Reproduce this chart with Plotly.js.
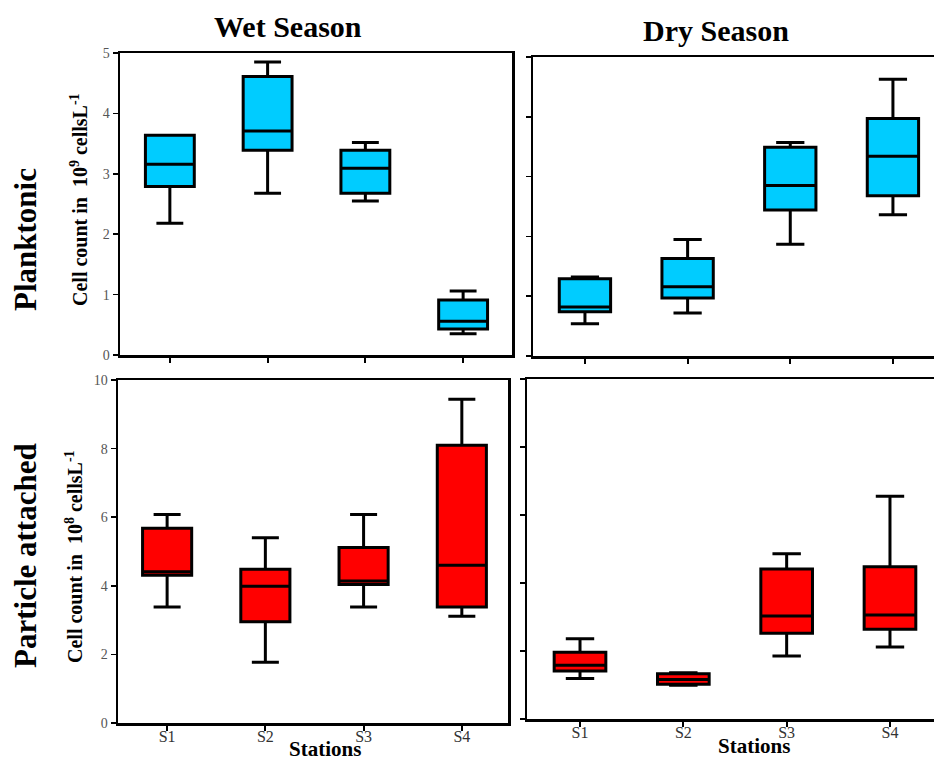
<!DOCTYPE html>
<html>
<head>
<meta charset="utf-8">
<script src="https://cdn.plot.ly/plotly-3.0.1.min.js"></script>
<style>
  html, body { margin: 0; padding: 0; background: #fff; }
  #chart { width: 934px; height: 760px; }
</style>
</head>
<body>
<div id="chart"></div>
<script>
// Sampling stations
const stations = ['S1', 'S2', 'S3', 'S4'];

// Planktonic, wet season (10^9 cells/L)
const wetPlankLow  = [2.18, 2.68, 2.55, 0.35];
const wetPlankQ1   = [2.79, 3.39, 2.68, 0.43];
const wetPlankMed  = [3.16, 3.71, 3.09, 0.56];
const wetPlankQ3   = [3.64, 4.61, 3.39, 0.91];
const wetPlankHigh = [3.64, 4.85, 3.52, 1.06];

// Planktonic, dry season (10^9 cells/L)
const dryPlankLow  = [0.54, 0.72, 1.87, 2.36];
const dryPlankQ1   = [0.74, 0.97, 2.44, 2.68];
const dryPlankMed  = [0.82, 1.16, 2.85, 3.34];
const dryPlankQ3   = [1.29, 1.63, 3.49, 3.97];
const dryPlankHigh = [1.32, 1.95, 3.57, 4.63];

// Particle attached, wet season (10^8 cells/L)
const wetPartLow  = [3.38, 1.77, 3.38, 3.11];
const wetPartQ1   = [4.31, 2.95, 4.04, 3.38];
const wetPartMed  = [4.41, 3.99, 4.14, 4.60];
const wetPartQ3   = [5.68, 4.48, 5.12, 8.10];
const wetPartHigh = [6.08, 5.40, 6.08, 9.44];

// Particle attached, dry season (10^8 cells/L)
const dryPartLow  = [1.19, 0.99, 1.85, 2.12];
const dryPartQ1   = [1.41, 1.02, 2.52, 2.64];
const dryPartMed  = [1.58, 1.16, 3.03, 3.06];
const dryPartQ3   = [1.96, 1.33, 4.41, 4.48];
const dryPartHigh = [2.36, 1.36, 4.86, 6.55];

const planktonicTicks = [0, 1, 2, 3, 4, 5];
const attachedTicks = [0, 2, 4, 6, 8, 10];

const W = 934, H = 760;
const px = v => v / W;
const py = v => 1 - v / H;

const CYAN = '#00CCFF';
const RED = '#FF0000';
const SERIF = '"Liberation Serif", "Times New Roman", serif';

function boxTrace(low, q1, med, q3, high, color, xa, ya) {
  return {
    type: 'box',
    x: stations,
    lowerfence: low, q1: q1, median: med, q3: q3, upperfence: high,
    xaxis: xa, yaxis: ya,
    fillcolor: color,
    line: { color: '#000', width: 3 },
    width: 0.5,
    whiskerwidth: 0.55,
    boxpoints: false,
    showlegend: false,
    hoverinfo: 'y'
  };
}

const data = [
  boxTrace(wetPlankLow, wetPlankQ1, wetPlankMed, wetPlankQ3, wetPlankHigh, CYAN, 'x', 'y'),
  boxTrace(dryPlankLow, dryPlankQ1, dryPlankMed, dryPlankQ3, dryPlankHigh, CYAN, 'x2', 'y2'),
  boxTrace(wetPartLow, wetPartQ1, wetPartMed, wetPartQ3, wetPartHigh, RED, 'x3', 'y3'),
  boxTrace(dryPartLow, dryPartQ1, dryPartMed, dryPartQ3, dryPartHigh, RED, 'x4', 'y4')
];

function xAxis(left, right, range, anchor, labels) {
  return {
    domain: [px(left), px(right)],
    anchor: anchor,
    type: 'category',
    categoryarray: stations,
    range: range,
    showline: true, linecolor: '#000', linewidth: 2.5,
    mirror: true,
    ticks: 'outside', ticklen: 5, tickwidth: 2, tickcolor: '#000',
    showticklabels: labels,
    ticklabelstandoff: -8,
    tickfont: { family: SERIF, size: 16, color: '#333' },
    showgrid: false, zeroline: false, fixedrange: true
  };
}

function yAxis(top, bottom, range, tickvals, anchor, labels, rightBorder) {
  return {
    domain: [py(bottom), py(top)],
    anchor: anchor,
    range: range,
    tickvals: tickvals,
    showline: true, linecolor: '#000', linewidth: 2.5,
    mirror: rightBorder,
    ticks: 'outside', ticklen: 5, tickwidth: 1.5, tickcolor: '#000',
    showticklabels: labels,
    tickfont: { family: SERIF, size: 14, color: '#555' },
    showgrid: false, zeroline: false, fixedrange: true
  };
}

const annFont = (size) => ({ family: SERIF, size: size, color: '#000' });

function note(text, x, y, size, angle) {
  return {
    text: text, xref: 'paper', yref: 'paper',
    x: px(x), y: py(y), xanchor: 'center', yanchor: 'middle',
    showarrow: false, textangle: angle || 0, font: annFont(size)
  };
}

const layout = {
  width: W, height: H,
  margin: { l: 0, r: 0, t: 0, b: 0 },
  paper_bgcolor: '#fff', plot_bgcolor: '#fff',
  showlegend: false,
  xaxis:  xAxis(120, 512, [-0.51, 3.5], 'y', false),
  yaxis:  yAxis(53, 355, [0, 5], planktonicTicks, 'x', true, true),
  xaxis2: xAxis(533, 934, [-0.506, 3.4], 'y2', false),
  yaxis2: yAxis(57, 356, [0, 5], planktonicTicks, 'x2', false, false),
  xaxis3: xAxis(118, 508, [-0.5, 3.47], 'y3', true),
  yaxis3: yAxis(380, 723, [0, 10], attachedTicks, 'x3', true, true),
  xaxis4: xAxis(527, 934, [-0.513, 3.426], 'y4', true),
  yaxis4: yAxis(379, 719, [0, 10], attachedTicks, 'x4', false, false),
  annotations: [
    note('<b>Wet Season</b>', 288, 27, 30),
    note('<b>Dry Season</b>', 716, 31, 30),
    note('<b>Planktonic</b>', 25, 240, 31, -90),
    note('<b>Particle attached</b>', 25, 556, 31, -90),
    note('<b>Cell count in  10<sup>9</sup> cellsL<sup>-1</sup></b>', 79, 200, 20, -90),
    note('<b>Cell count in  10<sup>8</sup> cellsL<sup>-1</sup></b>', 74, 557, 20, -90),
    note('<b>Stations</b>', 325, 749, 21),
    note('<b>Stations</b>', 754, 746, 21)
  ]
};

Plotly.newPlot('chart', data, layout, { displayModeBar: false, staticPlot: true });
</script>
</body>
</html>
